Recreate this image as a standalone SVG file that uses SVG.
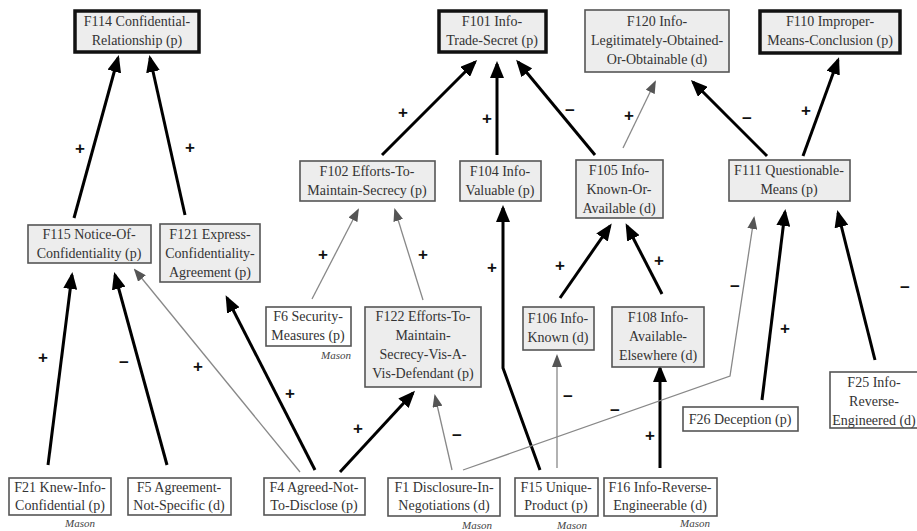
<svg xmlns="http://www.w3.org/2000/svg" width="917" height="531" viewBox="0 0 917 531">
<style>
.n rect{fill:#ededed;stroke:#555;stroke-width:1.6}
.n.f rect{fill:#fff}
.n.c rect{stroke:#111;stroke-width:3.5}
.n text{font-family:'Liberation Serif','Times New Roman',serif;font-size:14px;fill:#333;text-anchor:middle}
.n text.m{font-style:italic;font-size:11px;fill:#444}
.k{fill:none;stroke:#000;stroke-width:3;marker-end:url(#ak)}
.t{fill:none;stroke:#888;stroke-width:1.3;marker-end:url(#at)}
.l text{font-family:'Liberation Sans',Arial,sans-serif;font-size:17px;font-weight:bold;fill:#111;text-anchor:middle;dominant-baseline:central}
</style>
<defs>
<marker id="ak" markerUnits="userSpaceOnUse" markerWidth="18" markerHeight="14" refX="14" refY="7" orient="auto"><path d="M0,0 L17,7 L0,14 z" fill="#000"/></marker>
<marker id="at" markerUnits="userSpaceOnUse" markerWidth="13" markerHeight="10" refX="11" refY="5" orient="auto"><path d="M0,0 L13,5 L0,10 z" fill="#555"/></marker>
</defs>
<rect width="917" height="531" fill="#fff"/>
<g id="connectors">
<path class="k" d="M74,218 L118,58"/>
<path class="k" d="M185,215 L150,58"/>
<path class="k" d="M382,155 L475,62"/>
<path class="k" d="M497,155 L497,64"/>
<path class="k" d="M595,155 L518,62"/>
<path class="t" d="M623,148 L655,82"/>
<path class="k" d="M767,156 L693,82"/>
<path class="k" d="M803,156 L838,60"/>
<path class="t" d="M312,299 L358,210"/>
<path class="t" d="M423,300 L395,210"/>
<path class="k" d="M540,470 L503,368 L503,208"/>
<path class="k" d="M560,298 L610,226"/>
<path class="k" d="M662,294 L627,226"/>
<path class="t" d="M557,468 L557,356"/>
<path class="k" d="M660,468 L660,368"/>
<path class="t" d="M463,470 L730,376 L754,218"/>
<path class="k" d="M762,400 L785,212"/>
<path class="k" d="M875,360 L838,213"/>
<path class="k" d="M48,465 L72,275"/>
<path class="k" d="M167,465 L115,275"/>
<path class="t" d="M300,472 L135,270"/>
<path class="k" d="M315,470 L227,298"/>
<path class="k" d="M340,472 L413,393"/>
<path class="t" d="M452,470 L435,396"/>
</g>
<g class="l" id="labels">
<text x="80" y="148">+</text><text x="190" y="147">+</text><text x="403" y="112">+</text>
<text x="487" y="118">+</text><text x="570" y="110">−</text><text x="629" y="115">+</text>
<text x="747" y="118">−</text><text x="806" y="110">+</text><text x="323" y="254">+</text>
<text x="423" y="254">+</text><text x="492" y="267">+</text><text x="560" y="265">+</text>
<text x="659" y="260">+</text><text x="568" y="396">−</text><text x="650" y="435">+</text>
<text x="615" y="410">−</text><text x="735" y="286">−</text><text x="785" y="328">+</text>
<text x="905" y="287">−</text><text x="43" y="357">+</text><text x="124" y="362">−</text>
<text x="198" y="366">+</text><text x="290" y="393">+</text><text x="358" y="428">+</text>
<text x="457" y="435">−</text>
</g>
<g id="F114" class="n c"><rect x="75" y="11" width="124" height="41"/><text x="137" y="26">F114 Confidential-</text><text x="137" y="45">Relationship (p)</text></g>
<g id="F101" class="n c"><rect x="439" y="11" width="107" height="41"/><text x="492" y="26">F101 Info-</text><text x="492" y="45">Trade-Secret (p)</text></g>
<g id="F120" class="n"><rect x="585" y="10" width="144" height="62"/><text x="657" y="26">F120 Info-</text><text x="657" y="45">Legitimately-Obtained-</text><text x="657" y="64">Or-Obtainable (d)</text></g>
<g id="F110" class="n c"><rect x="760" y="11" width="140" height="42"/><text x="830" y="26">F110 Improper-</text><text x="830" y="45">Means-Conclusion (p)</text></g>
<g id="F102" class="n"><rect x="300" y="161" width="135" height="40"/><text x="367" y="176">F102 Efforts-To-</text><text x="367" y="195">Maintain-Secrecy (p)</text></g>
<g id="F104" class="n"><rect x="460" y="161" width="81" height="40"/><text x="500" y="176">F104 Info-</text><text x="500" y="195">Valuable (p)</text></g>
<g id="F105" class="n"><rect x="576" y="160" width="87" height="58"/><text x="619" y="175">F105 Info-</text><text x="619" y="194">Known-Or-</text><text x="619" y="213">Available (d)</text></g>
<g id="F111" class="n"><rect x="729" y="160" width="121" height="41"/><text x="789" y="175">F111 Questionable-</text><text x="789" y="194">Means (p)</text></g>
<g id="F115" class="n"><rect x="28" y="225" width="123" height="38"/><text x="89" y="239">F115 Notice-Of-</text><text x="89" y="258">Confidentiality (p)</text></g>
<g id="F121" class="n"><rect x="160" y="224" width="100" height="58"/><text x="210" y="239">F121 Express-</text><text x="210" y="258">Confidentiality-</text><text x="210" y="277">Agreement (p)</text></g>
<g id="F6" class="n f"><rect x="266" y="307" width="85" height="39"/><text x="308" y="321">F6 Security-</text><text x="308" y="340">Measures (p)</text><text class="m" x="336" y="359">Mason</text></g>
<g id="F122" class="n"><rect x="365" y="307" width="116" height="80"/><text x="423" y="321">F122 Efforts-To-</text><text x="423" y="340">Maintain-</text><text x="423" y="359">Secrecy-Vis-A-</text><text x="423" y="378">Vis-Defendant (p)</text></g>
<g id="F106" class="n"><rect x="523" y="307" width="71" height="43"/><text x="558" y="323">F106 Info-</text><text x="558" y="342">Known (d)</text></g>
<g id="F108" class="n"><rect x="612" y="307" width="92" height="60"/><text x="658" y="322">F108 Info-</text><text x="658" y="341">Available-</text><text x="658" y="360">Elsewhere (d)</text></g>
<g id="F26" class="n f"><rect x="683" y="407" width="115" height="24"/><text x="740" y="424">F26 Deception (p)</text></g>
<g id="F25" class="n f"><rect x="830" y="372" width="92" height="56"/><text x="874" y="387">F25 Info-</text><text x="874" y="406">Reverse-</text><text x="874" y="425">Engineered (d)</text></g>
<g id="F21" class="n f"><rect x="9" y="478" width="102" height="37"/><text x="60" y="492">F21 Knew-Info-</text><text x="60" y="510">Confidential (p)</text><text class="m" x="80" y="527">Mason</text></g>
<g id="F5" class="n f"><rect x="128" y="478" width="103" height="37"/><text x="179" y="492">F5 Agreement-</text><text x="179" y="510">Not-Specific (d)</text></g>
<g id="F4" class="n f"><rect x="264" y="478" width="101" height="37"/><text x="314" y="492">F4 Agreed-Not-</text><text x="314" y="510">To-Disclose (p)</text></g>
<g id="F1" class="n f"><rect x="388" y="478" width="112" height="38"/><text x="444" y="492">F1 Disclosure-In-</text><text x="444" y="510">Negotiations (d)</text><text class="m" x="477" y="529">Mason</text></g>
<g id="F15" class="n f"><rect x="515" y="478" width="83" height="38"/><text x="556" y="492">F15 Unique-</text><text x="556" y="510">Product (p)</text><text class="m" x="572" y="529">Mason</text></g>
<g id="F16" class="n f"><rect x="604" y="478" width="113" height="38"/><text x="660" y="492">F16 Info-Reverse-</text><text x="660" y="510">Engineerable (d)</text><text class="m" x="695" y="527">Mason</text></g>
</svg>
